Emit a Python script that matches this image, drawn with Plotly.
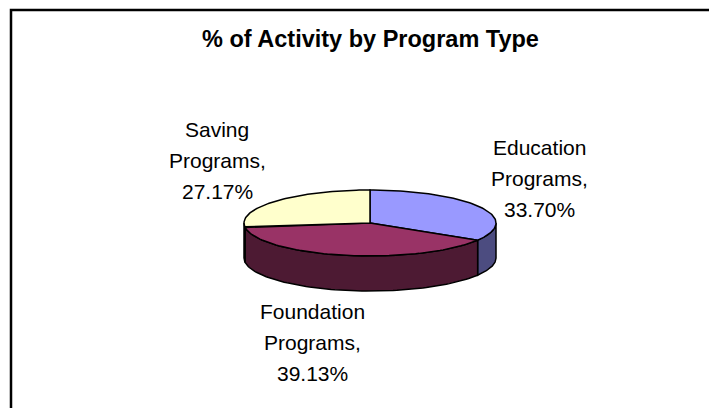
import numpy as np
import plotly.graph_objects as go

# ---- data ----
categories = ["Education Programs", "Foundation Programs", "Saving Programs"]
values = [33.70, 39.13, 27.17]

# ---- style ----
top_colors = ["#9999FF", "#993366", "#FFFFCC"]
side_colors = ["#4C4C80", "#4D1A33", "#808066"]
CX, CY, RX, RY, DEPTH = 370, 223, 126, 33, 35
FONT = "Arial, Liberation Sans, sans-serif"
label_pos = [(539, 147), (312, 311), (217, 129)]  # first-line centre of each label
LINE_GAP = 31
PAGE_OFFSET = 8  # default body margin of the html page


def pts(phi_a, phi_b, dz=0, n=80):
    # phi: clockwise degrees from 12 o'clock
    phi = np.linspace(phi_a, phi_b, n)
    th = np.radians(90 - phi)
    return CX + RX * np.cos(th), CY - RY * np.sin(th) + dz


fig = go.Figure()

total = sum(values)
bounds = []
acc = 0.0
for v in values:
    a = acc / total * 360
    acc += v
    b = acc / total * 360
    bounds.append((a, b))

# sides (front half only: phi in [90, 270])
for (a, b), sc in zip(bounds, side_colors):
    lo, hi = max(a, 90), min(b, 270)
    if hi <= lo:
        continue
    xt, yt = pts(lo, hi)
    xb, yb = pts(hi, lo, DEPTH)
    xs = np.concatenate([xt, xb, xt[:1]])
    ys = np.concatenate([yt, yb, yt[:1]])
    fig.add_trace(go.Scatter(x=xs, y=ys, mode="lines", fill="toself",
                             fillcolor=sc, line=dict(color="black", width=1.5),
                             hoverinfo="skip", showlegend=False))

# top faces
for (a, b), tc in zip(bounds, top_colors):
    xa, ya = pts(a, b)
    xs = np.concatenate([[CX], xa, [CX]])
    ys = np.concatenate([[CY], ya, [CY]])
    fig.add_trace(go.Scatter(x=xs, y=ys, mode="lines", fill="toself",
                             fillcolor=tc, line=dict(color="black", width=1.5),
                             hoverinfo="skip", showlegend=False))

# labels
for cat, v, (lx, ly) in zip(categories, values, label_pos):
    words = cat.split(" ")
    lines = [words[0], " ".join(words[1:]) + ",", f"{v:.2f}%"]
    for i, t in enumerate(lines):
        fig.add_annotation(x=lx, y=ly + i * LINE_GAP, text=t, showarrow=False,
                           xanchor="center", yanchor="middle",
                           font=dict(family=FONT, size=21, color="black"))

# title
fig.add_annotation(x=370, y=39, text="<b>% of Activity by Program Type</b>",
                   showarrow=False, xanchor="center", yanchor="middle",
                   font=dict(family=FONT, size=23.5, color="black"))

# outer frame
fig.add_shape(type="rect", x0=11, y0=10, x1=760, y1=450,
              line=dict(color="black", width=2.5), fillcolor="rgba(0,0,0,0)")

o = PAGE_OFFSET
fig.update_xaxes(range=[o, 717 + o], visible=False, fixedrange=True)
fig.update_yaxes(range=[408 + o, o], visible=False, fixedrange=True)
fig.update_layout(width=717, height=408, margin=dict(l=0, r=0, t=0, b=0),
                  paper_bgcolor="white", plot_bgcolor="white")

fig.write_html("out.html")
